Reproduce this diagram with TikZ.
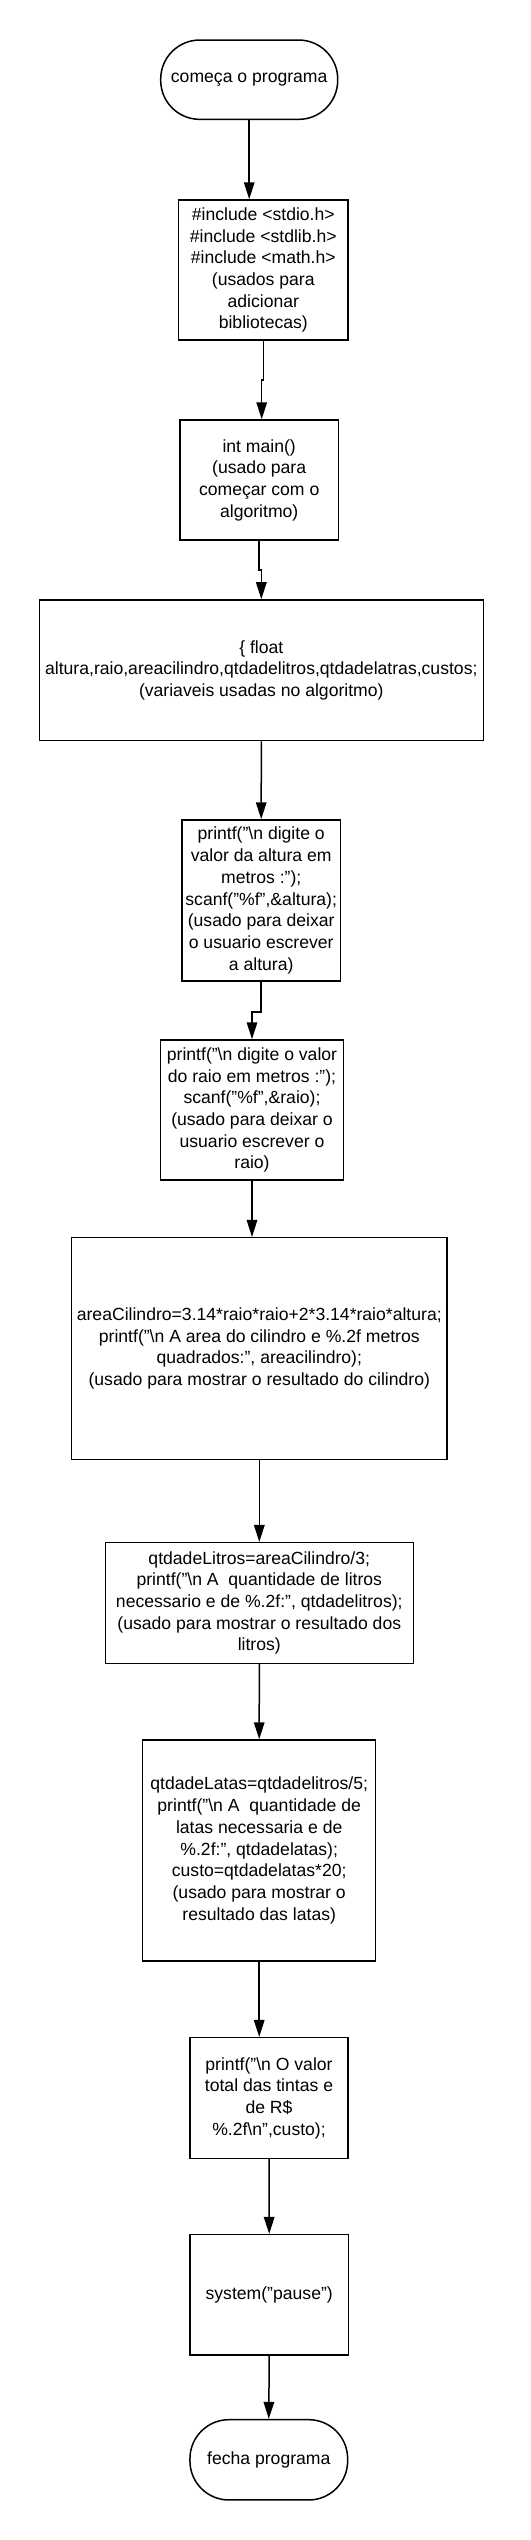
\documentclass[tikz,border=0pt]{standalone}
\usepackage{fontspec}
\setmainfont{Liberation Sans}
\usetikzlibrary{arrows.meta}
\begin{document}
\begin{tikzpicture}[x=1pt,y=-1pt,
  caixa/.style={draw, line width=1.5pt, align=center, inner sep=0pt, font=\fontsize{17.6pt}{21.7pt}\selectfont},
  term/.style={caixa, rounded corners=39pt},
  seta/.style={line width=1.5pt, -{Triangle[length=17pt,width=10.5pt]}}]
      \useasboundingbox (0,0) rectangle (530,2540);
      \node[term, minimum width=177pt, minimum height=79.3pt] (inicio) at (249.2,79.7) {começa o programa};
      \node[caixa, minimum width=169.3pt, minimum height=140pt] (inc) at (263.3,270) {\#include <stdio.h>\\\#include <stdlib.h>\\\#include <math.h>\\(usados para\\adicionar\\bibliotecas)};
      \node[caixa, minimum width=158.3pt, minimum height=120pt] (main) at (259.2,480) {int main()\\(usado para\\começar com o\\algoritmo)};
      \node[caixa, minimum width=444pt, minimum height=140.7pt] (vars) at (261.3,670.3) {\{ float\\altura,raio,areacilindro,qtdadelitros,qtdadelatras,custos;\\(variaveis usadas no algoritmo)};
      \node[caixa, minimum width=158.3pt, minimum height=161pt] (alt) at (261.2,900.5) {printf("\textbackslash n digite o\\valor da altura em\\metros :");\\scanf("\%f",\&altura);\\(usado para deixar\\o usuario escrever\\a altura)};
      \node[caixa, minimum width=182.6pt, minimum height=140pt] (raio) at (252,1110) {printf("\textbackslash n digite o valor\\do raio em metros :");\\scanf("\%f",\&raio);\\(usado para deixar o\\usuario escrever o\\raio)};
      \node[caixa, minimum width=375.3pt, minimum height=221.6pt] (area) at (259.3,1348.5) {areaCilindro=3.14*raio*raio+2*3.14*raio*altura;\\printf("\textbackslash n A area do cilindro e \%.2f metros\\quadrados:", areacilindro);\\(usado para mostrar o resultado do cilindro)};
      \node[caixa, minimum width=308pt, minimum height=120.6pt] (litros) at (259.3,1603) {qtdadeLitros=areaCilindro/3;\\printf("\textbackslash n A\ \ quantidade de litros\\necessario e de \%.2f:", qtdadelitros);\\(usado para mostrar o resultado dos\\litros)};
      \node[caixa, minimum width=233pt, minimum height=221pt] (latas) at (259.2,1850.5) {qtdadeLatas=qtdadelitros/5;\\printf("\textbackslash n A\ \ quantidade de\\latas necessaria e de\\\%.2f:", qtdadelatas);\\custo=qtdadelatas*20;\\(usado para mostrar o\\resultado das latas)};
      \node[caixa, minimum width=158pt, minimum height=120.6pt] (custo) at (269,2098) {printf("\textbackslash n O valor\\total das tintas e\\de R\$\\\%.2f\textbackslash n",custo);};
      \node[caixa, minimum width=158.3pt, minimum height=120.3pt] (pause) at (269.2,2294.8) {system("pause")};
      \node[term, minimum width=157.7pt, minimum height=80.3pt] (fim) at (268.8,2459.8) {fecha programa};
      \draw[seta] (inicio.south) -- (inicio.south |- inc.north);
      \draw[seta] (inc.south) -- ++(0,39) -| ([xshift=2.5pt]main.north);
      \draw[seta] (main.south) -- ++(0,29) -| (vars.north);
      \draw[seta] (vars.south) -- (alt.north);
      \draw[seta] (alt.south) -- ++(0,30) -| (raio.north);
      \draw[seta] (raio.south) -- (raio.south |- area.north);
      \draw[seta] (area.south) -- (litros.north);
      \draw[seta] (litros.south) -- (latas.north);
      \draw[seta] (latas.south) -- (latas.south |- custo.north);
      \draw[seta] (custo.south) -- (pause.north);
      \draw[seta] (pause.south) -- (fim.north);
\end{tikzpicture}
\end{document}
